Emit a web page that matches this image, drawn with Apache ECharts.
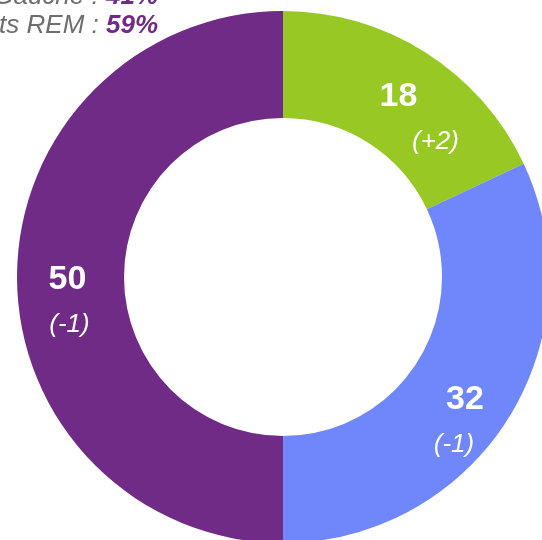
<!DOCTYPE html>
<html>
<head>
<meta charset="utf-8">
<script src="https://cdn.jsdelivr.net/npm/echarts@6/dist/echarts.min.js"></script>
<style>html,body{margin:0;padding:0;background:#fff}#c{width:542px;height:540px}</style>
</head>
<body>
<div id="c"></div>
<script>
const categories = ['Gauche', 'Centre', 'REM'];
const seats = [18, 32, 50];
const deltas = ['(+2)', '(-1)', '(-1)'];
const colors = ['#97C823', '#6F87FB', '#6F2B86'];
const summaryLabels = ['Total Gauche : ', 'Candidats REM : '];
const summaryValues = ['41%', '59%'];

// label layout tweaks (not data)
const labelOffsets = [[0, 25], [0, 30], [0, 26]];
const deltaPad = [[0, 0, 0, 74], [0, 22, 0, 0], [0, 0, 0, 4]];

const chart = echarts.init(document.getElementById('c'), null, {renderer: 'canvas'});
const data = seats.map((v, i) => ({
  name: categories[i],
  value: v,
  itemStyle: {color: colors[i]},
  label: {
    offset: labelOffsets[i],
    formatter: '{v|' + v + '}\n{d' + i + '|' + deltas[i] + '}'
  }
}));
const FONT = 'Liberation Sans, Arial, sans-serif';
const rich = {
  v: {fontSize: 34, fontWeight: 'bold', color: '#fff', fontFamily: FONT, lineHeight: 44, align: 'center'}
};
deltas.forEach((d, i) => {
  rich['d' + i] = {fontSize: 26, fontStyle: 'italic', color: '#fff', fontFamily: FONT, lineHeight: 46, padding: deltaPad[i], align: 'center'};
});
chart.setOption({
  animation: false,
  series: [{
    type: 'pie',
    center: [283, 277],
    radius: [159, 266],
    startAngle: 90,
    clockwise: true,
    silent: true,
    label: {show: true, position: 'inside', rich: rich, align: 'center'},
    labelLine: {show: false},
    itemStyle: {borderWidth: 0},
    data: data
  }],
  graphic: summaryLabels.map((t, i) => ({
    type: 'text',
    x: 158,
    y: 10 + i * 29,
    style: {
      text: '{a|' + t + '}{b|' + summaryValues[i] + '}',
      align: 'right',
      verticalAlign: 'bottom',
      rich: {
        a: {fontSize: 26, fontStyle: 'italic', fill: '#6e6e6e', fontFamily: FONT, lineHeight: 28, verticalAlign: 'bottom'},
        b: {fontSize: 26, fontStyle: 'italic', fontWeight: 'bold', fill: '#6F2B86', fontFamily: FONT, lineHeight: 28, verticalAlign: 'bottom'}
      }
    }
  }))
});
</script>
</body>
</html>
